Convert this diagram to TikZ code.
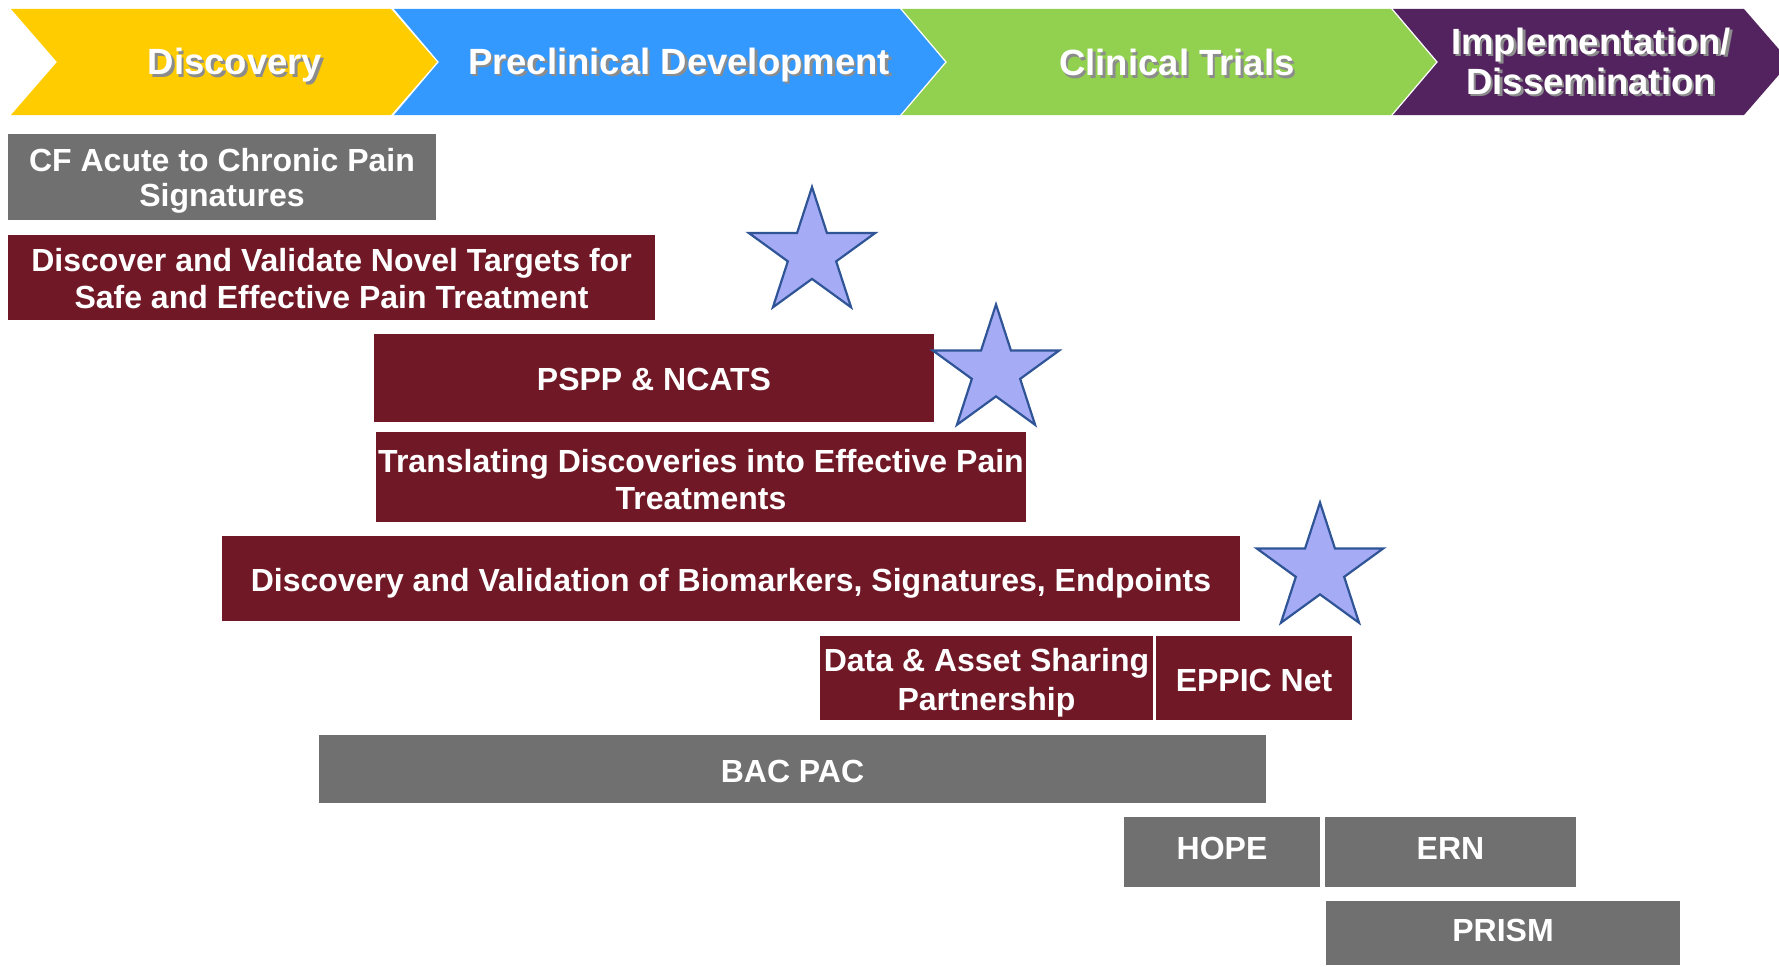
\documentclass[tikz,border=0pt]{standalone}
\usepackage{fontspec}
\setmainfont{Liberation Sans}
\usetikzlibrary{shapes.geometric}
\definecolor{cyellow}{HTML}{FFCC00}
\definecolor{cblue}{HTML}{3399FF}
\definecolor{cgreen}{HTML}{92D050}
\definecolor{cpurple}{HTML}{52235F}
\definecolor{maroon}{HTML}{701826}
\definecolor{boxgray}{HTML}{707070}
\definecolor{starfill}{HTML}{A5ABF5}
\definecolor{starline}{HTML}{2F5597}
\newcommand\shd[1]{\makebox[0pt][l]{\hspace{2.5pt}\raisebox{-2.5pt}{\textcolor{black!45}{#1}}}#1}
\newcommand\dn[2]{\raisebox{-#1}[\height][\depth]{#2}}
\tikzset{
  phase/.style={text=white, align=center, inner sep=0pt,
    font=\fontsize{36.5}{41}\selectfont\bfseries},
  boxbase/.style={text=white, align=center, inner sep=0pt,
    font=\fontsize{32}{37}\selectfont\bfseries},
  mbox/.style={boxbase, fill=maroon},
  gbox/.style={boxbase, fill=boxgray},
  starsty/.style={star, star points=5, star point ratio=2.618, fill=starfill,
    draw=starline, line width=2.2pt, inner sep=0pt, minimum size=133pt},
}
\begin{document}
\begin{tikzpicture}[x=1pt,y=-1pt]
\useasboundingbox (0,0) rectangle (1779,966);
\begin{scope}
\clip (0,0) rectangle (1779,966);
% chevrons
\fill[cyellow] (11,9) -- (391,9) -- (437,62) -- (391,115) -- (11,115) -- (57,62) -- cycle;
\fill[cblue] (394,9) -- (900,9) -- (945,62) -- (900,115) -- (394,115) -- (439,62) -- cycle;
\fill[cgreen] (902,9) -- (1391,9) -- (1436,62) -- (1391,115) -- (902,115) -- (947,62) -- cycle;
\fill[cpurple] (1393,9) -- (1744,9) -- (1790,62) -- (1744,115) -- (1393,115) -- (1438,62) -- cycle;
\node[phase] (disc) at (235,62) {\dn{4.5pt}{\shd{Discovery}}};
\node[phase] (precl) at (679,62) {\dn{4pt}{\shd{Preclinical Development}}};
\node[phase] (clin) at (1177,62) {\dn{2pt}{\shd{Clinical Trials}}};
\node[phase] (impl) at (1591,62) {\dn{1pt}{\shd{Implementation/}}\\\shd{Dissemination}};

% boxes
\node[gbox, minimum width=428pt, minimum height=86pt] (cf) at (222,177)
  {\dn{4.5pt}{CF Acute to Chronic Pain}\\\dn{2.3pt}{Signatures}};
\node[mbox, minimum width=647pt, minimum height=85pt] (dvn) at (331.5,277.5)
  {\dn{1pt}{Discover and Validate Novel Targets for}\\\dn{1pt}{Safe and Effective Pain Treatment}};
\node[mbox, minimum width=560pt, minimum height=88pt] (pspp) at (654,378)
  {\dn{1pt}{PSPP \& NCATS}};
\node[mbox, minimum width=650pt, minimum height=90pt] (tdep) at (701,477)
  {\dn{2.3pt}{Translating Discoveries into Effective Pain}\\\dn{2.3pt}{Treatments}};
\node[mbox, minimum width=1018pt, minimum height=85pt] (dvb) at (731,578.5)
  {\dn{4.5pt}{Discovery and Validation of Biomarkers, Signatures, Endpoints}};
\node[mbox, minimum width=333pt, minimum height=84pt] (dasp) at (986.5,678)
  {\dn{3.4pt}{Data \& Asset Sharing}\\\dn{5.7pt}{Partnership}};
\node[mbox, minimum width=196pt, minimum height=84pt] (eppic) at (1254,678)
  {\dn{2.3pt}{EPPIC Net}};
\node[gbox, minimum width=947pt, minimum height=68pt] (bac) at (792.5,769)
  {\dn{2.3pt}{BAC PAC}};
\node[gbox, minimum width=196pt, minimum height=70pt] (hope) at (1222,852)
  {\dn{-3.4pt}{HOPE}};
\node[gbox, minimum width=251pt, minimum height=70pt] (ern) at (1450.5,852)
  {\dn{-3.4pt}{ERN}};
\node[gbox, minimum width=354pt, minimum height=64pt] (prism) at (1503,933)
  {\dn{-2.3pt}{PRISM}};

% stars
\node[starsty] (s1) at (812,253.5) {};
\node[starsty] (s2) at (996,371) {};
\node[starsty] (s3) at (1320,569) {};
\end{scope}
\end{tikzpicture}
\end{document}
